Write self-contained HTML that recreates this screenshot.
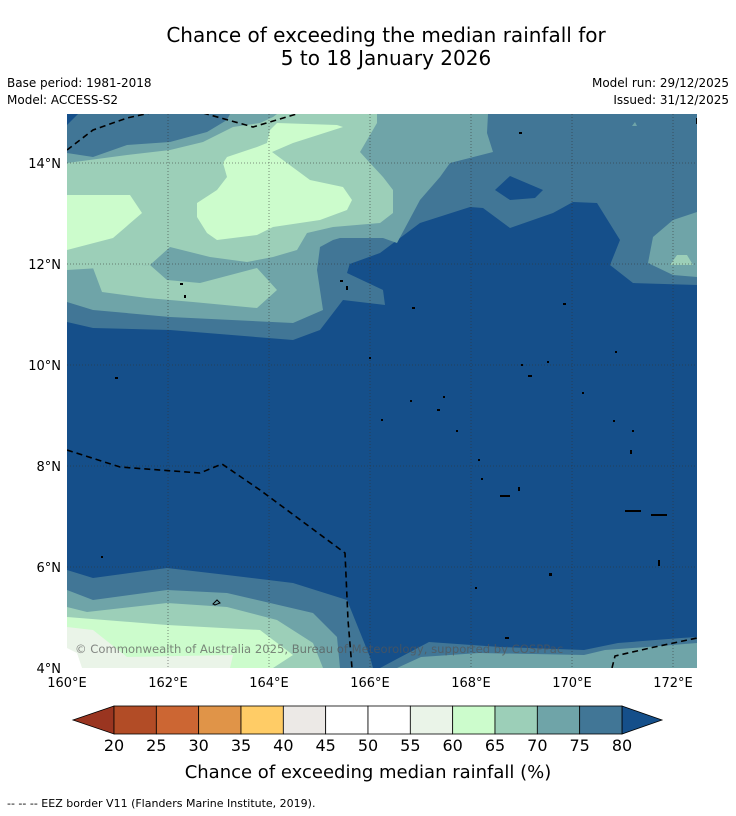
<!DOCTYPE html>
<html><head><meta charset="utf-8">
<style>
body{margin:0;background:#fff;width:736px;height:816px;overflow:hidden;font-family:"Liberation Sans","DejaVu Sans",sans-serif;}
svg{position:absolute;left:0;top:0}
</style></head>
<body>
<svg id="chart" width="736" height="816" viewBox="0 0 736 816" font-family="DejaVu Sans, Liberation Sans, sans-serif">
<text x="386" y="42" font-size="20" text-anchor="middle">Chance of exceeding the median rainfall for</text>
<text x="386" y="65" font-size="20" text-anchor="middle">5 to 18 January 2026</text>
<text x="7" y="87" font-size="12">Base period: 1981-2018</text>
<text x="7" y="104" font-size="12">Model: ACCESS-S2</text>
<text x="729" y="87" font-size="12" text-anchor="end">Model run: 29/12/2025</text>
<text x="729" y="104" font-size="12" text-anchor="end">Issued: 31/12/2025</text>
<defs><clipPath id="mc"><rect x="67" y="114" width="630" height="554"/></clipPath></defs>
<g id="map" clip-path="url(#mc)">
<rect x="67" y="114" width="630" height="554" fill="#154f8a"/>
<polygon fill="#417696" points="67,114 697,114 697,285 633,283 610,265 620,240 597,203 573,202 553,213 510,228 483,208 470,207 420,223 380,253 347,265 350,263 347,273 383,290 385,305 343,300 320,330 293,340 170,330 93,328 67,322"/>
<polygon fill="#154f8a" points="495,190 510,176 543,190 535,198 510,200"/>
<polygon fill="#154f8a" points="67,114 78,114 67,125"/>
<polygon fill="#6fa4a8" points="67,153 93,157 127,145 170,142 207,132 227,120 230,114 488,114 487,133 493,152 450,163 440,177 420,200 397,243 383,238 340,238 333,240 320,247 317,270 323,310 293,323 170,317 93,310 67,302"/>
<polygon fill="#6fa4a8" points="697,212 673,220 653,237 648,263 673,275 697,277"/>
<polygon fill="#9ccfb8" points="670,265 677,255 687,255 693,265"/>
<polygon fill="#6fa4a8" points="632,126 635,122 637,126"/>
<polygon fill="#9ccfb8" points="67,163 127,155 170,150 203,142 233,127 260,123 273,117 277,114 377,114 377,123 360,152 370,163 383,177 393,190 393,213 380,223 333,227 307,233 297,250 273,257 247,262 210,257 170,247 150,265 100,268 67,270"/>
<polygon fill="#9ccfb8" points="150,265 167,280 200,283 257,268 277,290 257,308 193,302 147,298 102,292 93,268"/>
<polygon fill="#ccfccc" points="67,195 130,195 142,213 113,238 67,250"/>
<polygon fill="#ccfccc" points="223,163 227,177 217,190 197,203 197,217 207,233 217,240 257,235 273,227 320,220 347,210 352,200 343,187 310,180 287,163 272,152 293,143 343,127 337,125 277,123 270,130 267,143 257,147 227,157"/>
<polygon fill="#417696" points="67,570 93,578 167,568 227,575 293,583 347,600 370,657 373,668 380,668 395,660 429,642 500,647 584,650 618,643 681,638 697,637 697,668 67,668"/>
<polygon fill="#6fa4a8" points="67,590 93,600 167,590 227,593 313,613 337,637 340,668 67,668"/>
<polygon fill="#6fa4a8" points="397,668 421,657 479,653 584,655 605,650 647,647 697,643 697,668"/>
<polygon fill="#9ccfb8" points="67,607 87,612 167,603 227,607 277,620 313,643 323,668 67,668"/>
<polygon fill="#ccfccc" points="67,617 167,625 260,630 293,655 273,668 67,668"/>
<polygon fill="#eaf4e8" points="67,627 93,630 127,657 233,655 230,668 67,668"/>
<polygon fill="#ffffff" points="67,648 77,653 82,668 67,668"/>
<g stroke="#333" stroke-width="0.8" stroke-dasharray="1,2" opacity="0.7" id="grid"></g>
<g fill="none" stroke="#000" stroke-width="1.6" stroke-dasharray="6,4">
<polyline points="67,150 93,130 127,118 150,113"/>
<polyline points="203,113 253,127 300,113"/>
<polyline points="67,450 120,467 200,473 222,464 260,490 345,553 348,620 352,668"/>
<polyline points="612,668 615,656 650,648 697,638"/>
</g>
<g fill="#000">
<rect x="519" y="132" width="3" height="2"/><rect x="696" y="118" width="2" height="6"/><rect x="180" y="283" width="3" height="2"/><rect x="184" y="295" width="2" height="3"/>
<rect x="340" y="280" width="3" height="2"/><rect x="346" y="286" width="2" height="4"/><rect x="412" y="307" width="3" height="2"/><rect x="563" y="303" width="3" height="2"/>
<rect x="369" y="357" width="2" height="2"/><rect x="115" y="377" width="3" height="2"/><rect x="521" y="364" width="2" height="2"/><rect x="528" y="375" width="4" height="2"/><rect x="547" y="361" width="2" height="2"/><rect x="615" y="351" width="2" height="2"/>
<rect x="582" y="392" width="2" height="2"/><rect x="437" y="409" width="3" height="2"/><rect x="443" y="396" width="2" height="2"/><rect x="410" y="400" width="2" height="2"/><rect x="381" y="419" width="2" height="2"/><rect x="456" y="430" width="2" height="2"/><rect x="613" y="420" width="2" height="2"/><rect x="632" y="430" width="2" height="2"/>
<rect x="478" y="459" width="2" height="2"/><rect x="481" y="478" width="2" height="2"/><rect x="500" y="495" width="10" height="2"/><rect x="518" y="487" width="2" height="4"/><rect x="625" y="510" width="16" height="2"/><rect x="651" y="514" width="16" height="2"/><rect x="630" y="450" width="2" height="4"/>
<rect x="101" y="556" width="2" height="2"/><rect x="658" y="560" width="2" height="6"/><rect x="549" y="573" width="3" height="3"/><rect x="475" y="587" width="2" height="2"/><rect x="505" y="637" width="4" height="2"/>
</g>
<path d="M213,604 L217,600 L220,603 L215,605 Z" fill="none" stroke="#000" stroke-width="1"/>
<text x="75" y="653" font-size="11.6" fill="#555" fill-opacity="0.7">© Commonwealth of Australia 2025, Bureau of Meteorology, supported by COSPPac</text>
</g>
<g id="axes" font-size="13"></g>
<g id="colorbar"></g>
<text x="368" y="778" font-size="18" text-anchor="middle">Chance of exceeding median rainfall (%)</text>
<text x="7" y="807" font-size="11">--  --  -- EEZ border V11 (Flanders Marine Institute, 2019).</text>
</svg>
<script>
const lonTicks=[160,162,164,166,168,170,172];
const latTicks=[4,6,8,10,12,14];
const cbLevels=[20,25,30,35,40,45,50,55,60,65,70,75,80];
const cbColors=["#b24c26","#cc6633","#e09448","#ffcc66","#ece9e6","#ffffff","#ffffff","#eaf4e8","#ccfccc","#9ccfb8","#6fa4a8","#417696"];
const cbUnder="#9a3520", cbOver="#154f8a";
const NS="http://www.w3.org/2000/svg";
function lonX(l){return 67+(l-160)*50.5;}
function latY(l){return 668-(l-4)*50.5;}
function mk(t,a,p){const e=document.createElementNS(NS,t);for(const k in a)e.setAttribute(k,a[k]);p.appendChild(e);return e;}
const grid=document.getElementById('grid'), axes=document.getElementById('axes'), cb=document.getElementById('colorbar');
lonTicks.forEach(l=>{
 if(l>160){const g=mk('line',{x1:lonX(l),x2:lonX(l),y1:114,y2:668},grid);
 
 }
 const t=mk('text',{x:lonX(l),y:687,'text-anchor':'middle'},axes);t.textContent=l+'°E';
 
 
});
latTicks.forEach(l=>{
 if(l>4){const g=mk('line',{x1:67,x2:697,y1:latY(l),y2:latY(l)},grid);
 
 }
 const t=mk('text',{x:61,y:latY(l)+5,'text-anchor':'end'},axes);t.textContent=l+'°N';
 
 
});
const cx0=114,cx1=622,cy=706,ch=28;
function cbX(v){return cx0+(v-cbLevels[0])/(cbLevels[cbLevels.length-1]-cbLevels[0])*(cx1-cx0);}
const u=mk('polygon',{points:`${cbX(20)},${cy} 73,${cy+ch/2} ${cbX(20)},${cy+ch}`,fill:cbUnder,stroke:'#000','stroke-width':0.8},cb);


const o=mk('polygon',{points:`${cbX(80)},${cy} 662,${cy+ch/2} ${cbX(80)},${cy+ch}`,fill:cbOver,stroke:'#000','stroke-width':0.8},cb);


for(let i=0;i<cbColors.length;i++){
 const r=mk('rect',{x:cbX(cbLevels[i]),y:cy,width:cbX(cbLevels[i+1])-cbX(cbLevels[i]),height:ch,fill:cbColors[i],stroke:'#000','stroke-width':0.8},cb);
 
 
}
cbLevels.forEach(v=>{
 const t=mk('text',{x:cbX(v),y:751,'font-size':16,'text-anchor':'middle'},cb);t.textContent=v;
 
 
});
</script>
</body></html>
